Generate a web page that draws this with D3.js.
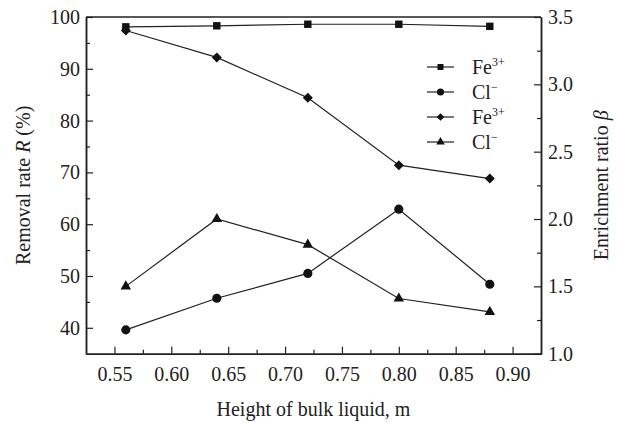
<!DOCTYPE html>
<html>
<head>
<meta charset="utf-8"/>
<script src="https://cdn.jsdelivr.net/npm/d3@7"></script>
<title>Removal rate and enrichment ratio</title>
<style>
body { margin: 0; background: #fff; }
text { font-family: "Liberation Serif", "Times New Roman", serif; fill: #222; }
</style>
</head>
<body>
<script>
// data
var heights = [0.56, 0.64, 0.72, 0.80, 0.88];
var feRemoval = [98.1, 98.3, 98.6, 98.6, 98.2];
var clRemoval = [39.6, 45.7, 50.5, 62.9, 48.4];
var feEnrich = [3.40, 3.20, 2.90, 2.40, 2.30];
var clEnrich = [1.50, 2.00, 1.81, 1.41, 1.31];

var xTicks = [0.55, 0.60, 0.65, 0.70, 0.75, 0.80, 0.85, 0.90];
var leftTicks = [40, 50, 60, 70, 80, 90, 100];
var rightTicks = [1.0, 1.5, 2.0, 2.5, 3.0, 3.5];

var W = 618, H = 423;
// note: "top" is taken by window.top, so use other names
var plotL = 86, plotR = 541, plotT = 17, plotB = 353.7;

var svg = d3.select("body").append("svg")
	.attr("width", W)
	.attr("height", H);

var x = d3.scaleLinear().domain([0.525, 0.925]).range([plotL, plotR]);
var yL = d3.scaleLinear().domain([35, 100]).range([plotB, plotT]);
var yR = d3.scaleLinear().domain([1.0, 3.5]).range([plotB, plotT]);

//minor ticks (halfway between majors)
var xMinor = xTicks.map(function(d){ return d + 0.025; }).filter(function(d){ return d < 0.925; });
var lMinor = leftTicks.map(function(d){ return d - 5; }).filter(function(d){ return d > 35; });
var rMinor = rightTicks.map(function(d){ return d - 0.25; }).filter(function(d){ return d > 1.0; });

function styleAxis(g) {
	g.selectAll("path").attr("stroke", "#222").attr("stroke-width", 1.5);
	g.selectAll("line").attr("stroke", "#222").attr("stroke-width", 1.2);
	g.selectAll("text").attr("font-size", 20).attr("font-family", "Liberation Serif").attr("fill", "#222");
}

// x axis
svg.append("g").attr("transform", "translate(0," + plotB + ")")
	.call(d3.axisBottom(x).tickValues(xMinor).tickSize(-4).tickFormat("").tickSizeOuter(0))
	.call(styleAxis);
svg.append("g").attr("transform", "translate(0," + plotB + ")")
	.call(d3.axisBottom(x).tickValues(xTicks).tickSize(-7).tickPadding(13).tickFormat(d3.format(".2f")).tickSizeOuter(0))
	.call(styleAxis);

// left axis
svg.append("g").attr("transform", "translate(" + plotL + ",0)")
	.call(d3.axisLeft(yL).tickValues(lMinor).tickSize(-4).tickFormat("").tickSizeOuter(0))
	.call(styleAxis);
svg.append("g").attr("transform", "translate(" + plotL + ",0)")
	.call(d3.axisLeft(yL).tickValues(leftTicks).tickSize(-7).tickPadding(6).tickSizeOuter(0))
	.call(styleAxis);

// right axis
svg.append("g").attr("transform", "translate(" + plotR + ",0)")
	.call(d3.axisRight(yR).tickValues(rMinor).tickSize(-4).tickFormat("").tickSizeOuter(0))
	.call(styleAxis);
svg.append("g").attr("transform", "translate(" + plotR + ",0)")
	.call(d3.axisRight(yR).tickValues(rightTicks).tickSize(-7).tickPadding(7).tickFormat(d3.format(".1f")).tickSizeOuter(0))
	.call(styleAxis);

// top frame
svg.append("line")
	.attr("x1", plotL).attr("x2", plotR).attr("y1", plotT).attr("y2", plotT)
	.attr("stroke", "#222").attr("stroke-width", 1.5);

// axis titles
svg.append("text")
	.attr("x", (plotL + plotR) / 2).attr("y", 416)
	.attr("text-anchor", "middle").attr("font-size", 20)
	.text("Height of bulk liquid, m");

var lt = svg.append("text")
	.attr("transform", "translate(30," + (plotT + plotB) / 2 + ") rotate(-90)")
	.attr("text-anchor", "middle").attr("font-size", 20);
lt.append("tspan").text("Removal rate ");
lt.append("tspan").attr("font-style", "italic").text("R");
lt.append("tspan").text(" (%)");

var rt = svg.append("text")
	.attr("transform", "translate(608," + (plotT + plotB) / 2 + ") rotate(-90)")
	.attr("text-anchor", "middle").attr("font-size", 20);
rt.append("tspan").text("Enrichment ratio ");
rt.append("tspan").attr("font-style", "italic").text("β");

// series
var series = [
	{ name: "Fe", sup: "3+", values: feRemoval, y: yL, symbol: d3.symbolSquare, size: 55, lsize: 36, rot: 0 },
	{ name: "Cl", sup: "−", values: clRemoval, y: yL, symbol: d3.symbolCircle, size: 66, lsize: 40, rot: 0 },
	{ name: "Fe", sup: "3+", values: feEnrich, y: yR, symbol: d3.symbolSquare, size: 50, lsize: 30, rot: 45 },
	{ name: "Cl", sup: "−", values: clEnrich, y: yR, symbol: d3.symbolTriangle, size: 48, lsize: 32, rot: 0 }
];

var line = d3.line();

series.forEach(function(s) {
	var pts = heights.map(function(h, i){ return [x(h), s.y(s.values[i])]; });
	svg.append("path")
		.attr("d", line(pts))
		.attr("fill", "none")
		.attr("stroke", "#222")
		.attr("stroke-width", 1.2);
	svg.selectAll(null).data(pts).enter().append("path")
		.attr("d", d3.symbol().type(s.symbol).size(s.size))
		.attr("transform", function(d){ return "translate(" + d[0] + "," + d[1] + ") rotate(" + s.rot + ")"; })
		.attr("fill", "#111");
});

// legend
var legend = svg.append("g");
series.forEach(function(s, i) {
	var ly = 67 + i * 25;
	legend.append("line")
		.attr("x1", 427).attr("x2", 454).attr("y1", ly).attr("y2", ly)
		.attr("stroke", "#222").attr("stroke-width", 1.2);
	legend.append("path")
		.attr("d", d3.symbol().type(s.symbol).size(s.lsize))
		.attr("transform", "translate(440.5," + ly + ") rotate(" + s.rot + ")")
		.attr("fill", "#111");
	var t = legend.append("text")
		.attr("x", 472).attr("y", ly + 7)
		.attr("font-size", 20);
	t.append("tspan").text(s.name);
	t.append("tspan").attr("font-size", 12).attr("dy", -8).text(s.sup);
});
</script>
</body>
</html>
